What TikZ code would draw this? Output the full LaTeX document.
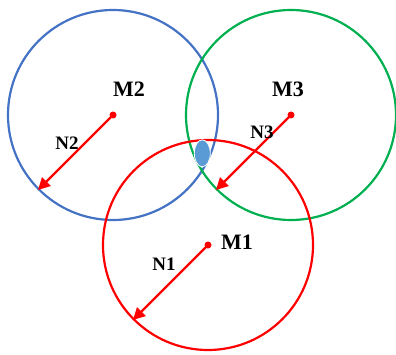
\documentclass[tikz,border=0pt]{standalone}
\usepackage{fontspec}
\setmainfont{Liberation Serif}
\usetikzlibrary{arrows.meta,shapes.geometric}

\definecolor{ringblue}{HTML}{4472C4}
\definecolor{ringgreen}{HTML}{00B050}
\definecolor{ringred}{HTML}{FF0000}
\definecolor{spotblue}{HTML}{5B9BD5}

\newcommand*{\ringsize}{210pt}

\begin{document}
\begin{tikzpicture}
[
	x=1pt, y=1pt,
	ring/.style={circle,draw,line width=2.2pt,inner sep=0pt,minimum size=\ringsize},
	ctrpt/.style={circle,fill=ringred,inner sep=0pt,minimum size=7pt},
	radarrow/.style={-{Triangle[length=12pt,width=12pt]},line width=2.2pt,ringred,shorten <=-1pt},
	mlabel/.style={font=\bfseries\fontsize{22}{22}\selectfont},
	nlabel/.style={font=\bfseries\fontsize{19}{19}\selectfont}
]

	\useasboundingbox (0,0) rectangle (396,354);

	% rings
	\node[ring,ringblue] at (113,239) (ring2) {};
	\node[ring,ringgreen] at (291,239) (ring3) {};
	\node[ring,ringred] at (208,109) (ring1) {};

	% common spot
	\node[ellipse,fill=spotblue,draw=white,line width=0.8pt,inner sep=0pt,minimum width=16pt,minimum height=27pt] at (202.3,200.7) (spot) {};

	% centres
	\node[ctrpt] at (ring2.center) (ctr2) {};
	\node[ctrpt] at (ring3.center) (ctr3) {};
	\node[ctrpt] at (ring1.center) (ctr1) {};

	\node[mlabel] at (129,265) (lab2) {M2};
	\node[mlabel] at (288,265) (lab3) {M3};
	\node[mlabel] at (237,112) (lab1) {M1};

	% radii
	\draw[radarrow] (ctr2.center) -- (ring2.225);
	\draw[radarrow] (ctr3.center) -- (ring3.225);
	\draw[radarrow] (ctr1.center) -- (ring1.225);

	\node[nlabel] at (67,211) (rad2) {N2};
	\node[nlabel] at (262,222) (rad3) {N3};
	\node[nlabel] at (164,90) (rad1) {N1};

\end{tikzpicture}
\end{document}
